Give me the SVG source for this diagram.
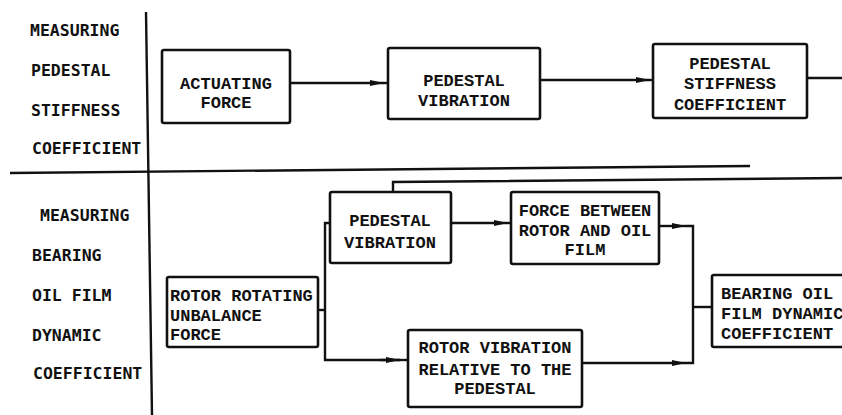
<svg xmlns="http://www.w3.org/2000/svg" width="842" height="415" viewBox="0 0 842 415">
<style>
.lbl{font-family:"DejaVu Sans Mono",monospace;font-weight:bold;font-size:16.5px;fill:#111}
.bx{font-family:"Liberation Mono","Courier New",monospace;font-weight:bold;font-size:17px;fill:#111}
.c{text-anchor:middle}
.box{fill:#fff;stroke:#111;stroke-width:2.6}
.ln{fill:none;stroke:#111;stroke-width:2.4}
</style>
<defs>
<marker id="ah" viewBox="0 0 14 8" refX="14" refY="4" markerWidth="14" markerHeight="8" markerUnits="userSpaceOnUse" orient="auto">
<path d="M0,1 L14,4 L0,7 Z" fill="#111"/>
</marker>
</defs>
<rect width="842" height="415" fill="#fff"/>
<g id="frame">
<line x1="146" y1="12" x2="152" y2="415" class="ln" stroke-width="2.6"/>
<line x1="10" y1="173" x2="750" y2="166" class="ln" stroke-width="3.2"/>
</g>
<g id="labels">
<text class="lbl" x="30" y="36">MEASURING</text>
<text class="lbl" x="31" y="76">PEDESTAL</text>
<text class="lbl" x="31" y="116">STIFFNESS</text>
<text class="lbl" x="32" y="154">COEFFICIENT</text>
<text class="lbl" x="40" y="221">MEASURING</text>
<text class="lbl" x="32" y="261">BEARING</text>
<text class="lbl" x="32" y="301">OIL FILM</text>
<text class="lbl" x="32" y="341">DYNAMIC</text>
<text class="lbl" x="33" y="379">COEFFICIENT</text>
</g>
<g id="connectors">
<path class="ln" d="M290 83 L384 83" marker-end="url(#ah)"/>
<path class="ln" d="M384 83 L388 83"/>
<path class="ln" d="M540 80 L650 80" marker-end="url(#ah)"/>
<path class="ln" d="M650 80 L653 80"/>
<path class="ln" d="M807 78 L842 78"/>
<path class="ln" d="M393 192 L393 182 L842 178"/>
<path class="ln" d="M318 310 L325 310"/>
<path class="ln" d="M330 223 L325 223 L325 360 L400 360"/>
<path class="ln" d="M380 360 L400 360" marker-end="url(#ah)"/>
<path class="ln" d="M400 360 L408 360"/>
<path class="ln" d="M451 223 L508 223" marker-end="url(#ah)"/>
<path class="ln" d="M508 223 L511 223"/>
<path class="ln" d="M659 226 L686 226" marker-end="url(#ah)"/>
<path class="ln" d="M686 226 L693 226 L693 363 L686 363"/>
<path class="ln" d="M582 363 L686 363" marker-end="url(#ah)"/>
<path class="ln" d="M693 307 L712 307"/>
</g>
<g id="n-actuating">
<rect class="box" x="162" y="50" width="128" height="73" rx="2"/>
<text class="bx c" x="226" y="89">ACTUATING</text>
<text class="bx c" x="226" y="108">FORCE</text>
</g>
<g id="n-pedvib-top">
<rect class="box" x="388" y="48" width="152" height="71" rx="2"/>
<text class="bx c" x="464" y="86">PEDESTAL</text>
<text class="bx c" x="464" y="106">VIBRATION</text>
</g>
<g id="n-stiffness">
<rect class="box" x="653" y="44" width="154" height="74" rx="2"/>
<text class="bx c" x="730" y="69">PEDESTAL</text>
<text class="bx c" x="730" y="89">STIFFNESS</text>
<text class="bx c" x="730" y="110">COEFFICIENT</text>
</g>
<g id="n-pedvib-bot">
<rect class="box" x="330" y="192" width="121" height="71" rx="2"/>
<text class="bx c" x="390" y="226">PEDESTAL</text>
<text class="bx c" x="390" y="248">VIBRATION</text>
</g>
<g id="n-force">
<rect class="box" x="511" y="192" width="148" height="72" rx="2"/>
<text class="bx c" x="585" y="216">FORCE BETWEEN</text>
<text class="bx c" x="585" y="236">ROTOR AND OIL</text>
<text class="bx c" x="585" y="255">FILM</text>
</g>
<g id="n-unbalance">
<rect class="box" x="167" y="277" width="151" height="70" rx="2"/>
<text class="bx" x="170" y="301">ROTOR ROTATING</text>
<text class="bx" x="170" y="321">UNBALANCE</text>
<text class="bx" x="170" y="340">FORCE</text>
</g>
<g id="n-rotorvib">
<rect class="box" x="408" y="330" width="174" height="77" rx="2"/>
<text class="bx c" x="495" y="353">ROTOR VIBRATION</text>
<text class="bx c" x="495" y="375">RELATIVE TO THE</text>
<text class="bx c" x="495" y="394">PEDESTAL</text>
</g>
<g id="n-bearing">
<rect class="box" x="712" y="275" width="150" height="72" rx="2"/>
<text class="bx" x="721" y="299" font-size="16.4">BEARING OIL</text>
<text class="bx" x="721" y="319" font-size="16.4">FILM DYNAMIC</text>
<text class="bx" x="721" y="339" font-size="16.4">COEFFICIENT</text>
</g>
</svg>
